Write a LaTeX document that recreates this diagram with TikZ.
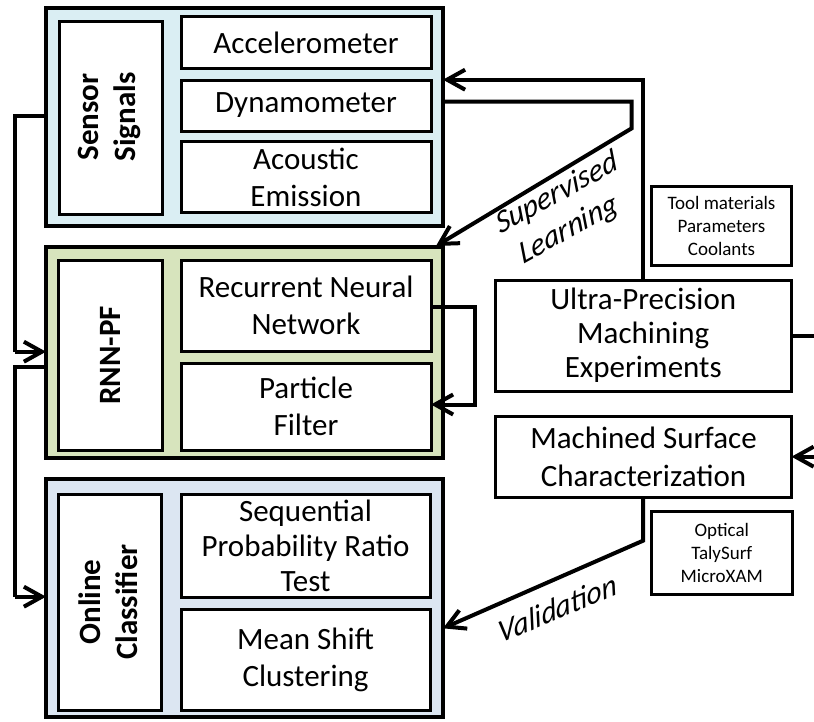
\documentclass[tikz,border=0pt]{standalone}
\usepackage{fontspec}
\setmainfont{Carlito}
\usetikzlibrary{arrows.meta}
\definecolor{aquafill}{HTML}{DAEEF3}
\definecolor{olivefill}{HTML}{D7E4BD}
\definecolor{bluefill}{HTML}{DCE6F2}
\begin{document}
\begin{tikzpicture}[x=1pt,y=-1pt,
  grp/.style={draw, line width=4pt, inner sep=0pt, outer sep=0pt},
  ibox/.style={draw, fill=white, line width=3pt, inner sep=0pt, outer sep=0pt, align=center, font=\fontsize{31}{37}\selectfont},
  vlab/.style={align=center, rotate=90, font=\fontsize{31}{37}\selectfont\bfseries},
  small/.style={draw, line width=3pt, inner sep=0pt, outer sep=0pt, align=center, font=\fontsize{19}{22.7}\selectfont},
  conn/.style={line width=4pt},
  arr/.style={line width=4pt, -{Straight Barb[length=18pt,width=20pt]}},
  slanted/.style={align=center, font=\fontsize{31}{37}\selectfont\itshape}
]
\useasboundingbox (0,0) rectangle (814,721);
\clip (0,0) rectangle (814,721);

% group 1
\node[grp, fill=aquafill, minimum width=397, minimum height=218.5] (g1) at (244.5,116.75) {};
\node[ibox, minimum width=103.5, minimum height=193.5] (sl) at (110.75,117.75) {};
\node[vlab] at (109,117) {Sensor\\Signals};
\node[ibox, minimum width=250, minimum height=52] (acc) at (306,42.5) {Accelerometer};
\node[ibox, minimum width=250, minimum height=51] (dyn) at (306,105.5) {Dynamometer};
\node[ibox, minimum width=250, minimum height=71] (ae) at (306,177) {Acoustic\\Emission};

% group 2
\node[grp, fill=olivefill, minimum width=397, minimum height=211] (g2) at (244.5,352) {};
\node[ibox, minimum width=104, minimum height=190.5] (rl) at (110,355.25) {};
\node[vlab] at (110,355.25) {RNN-PF};
\node[ibox, minimum width=250, minimum height=91.5] (rnn) at (306,305.75) {Recurrent Neural\\Network};
\node[ibox, minimum width=250, minimum height=86.5] (pf) at (306,406.75) {Particle\\Filter};

% group 3
\node[grp, fill=bluefill, minimum width=397, minimum height=238] (g3) at (244.5,598) {};
\node[ibox, minimum width=103, minimum height=216] (ol) at (109.5,602) {};
\node[vlab] at (108.5,602) {Online\\Classifier};
\node[ibox, minimum width=249, minimum height=103, font=\fontsize{31}{35}\selectfont] (sprt) at (305.5,545.5) {Sequential\\Probability Ratio\\Test};
\node[ibox, minimum width=249, minimum height=101] (msc) at (305.5,659.5) {Mean Shift\\Clustering};

% right side
\node[ibox, minimum width=295.5, minimum height=111, font=\fontsize{31}{34}\selectfont] (ultra) at (643.25,335.5) {Ultra-Precision\\Machining\\Experiments};
\node[small, minimum width=140, minimum height=79] (tool) at (721.5,226) {Tool materials\\Parameters\\Coolants};
\node[ibox, minimum width=296, minimum height=81, font=\fontsize{31}{38}\selectfont] (msurf) at (643.5,457.2) {Machined Surface\\Characterization};
\node[small, minimum width=140.5, minimum height=82.6] (opt) at (721.75,553) {Optical\\TalySurf\\MicroXAM};

% left connectors
\coordinate (lx1) at (15,116);
\coordinate (lx2) at (15,351.7);
\coordinate (lx3) at (15,366.7);
\coordinate (lx4) at (15,596.7);
\draw[conn] (g1.west |- lx1) -- (lx1) -- (lx2);
\draw[arr] (lx2) -- (g2.west |- lx2);
\draw[conn] (g2.west |- lx3) -- (lx3) -- (lx4);
\draw[arr] (lx4) -- (g3.west |- lx4);

% RNN -> PF loop
\coordinate (lp1) at (475,306.7);
\coordinate (lp2) at (475,404.5);
\draw[arr] (rnn.east |- lp1) -- (lp1) -- (lp2) -- (pf.east |- lp2);

% Ultra -> sensors
\coordinate (ut) at (643.25,79.7);
\draw[arr] (ultra.north) -- (ut) -- (g1.east |- ut);

% Dynamometer -> supervised learning -> RNN-PF
\coordinate (s1) at (631.7,101.7);
\coordinate (s2) at (631.7,128.3);
\coordinate (stip) at (436,246);
\draw[arr] (g1.east |- s1) -- (s1) -- (s2) -- (stip);
\node[slanted, rotate=29, xslant=0.2] at (563,212) {Supervised\\Learning};

% Ultra -> Machined surface (via right edge)
\coordinate (r1) at (830,335.5);
\coordinate (r2) at (830,456.7);
\draw[arr] (ultra.east) -- (r1) -- (r2) -- (msurf.east |- r2);

% Validation
\coordinate (v1) at (643,540.7);
\coordinate (vtip) at (443,628.3);
\draw[arr] (msurf.south -| v1) -- (v1) -- (g3.east |- vtip);
\node[slanted, rotate=23, xslant=0.25] at (557.5,608) {Validation};
\end{tikzpicture}
\end{document}
